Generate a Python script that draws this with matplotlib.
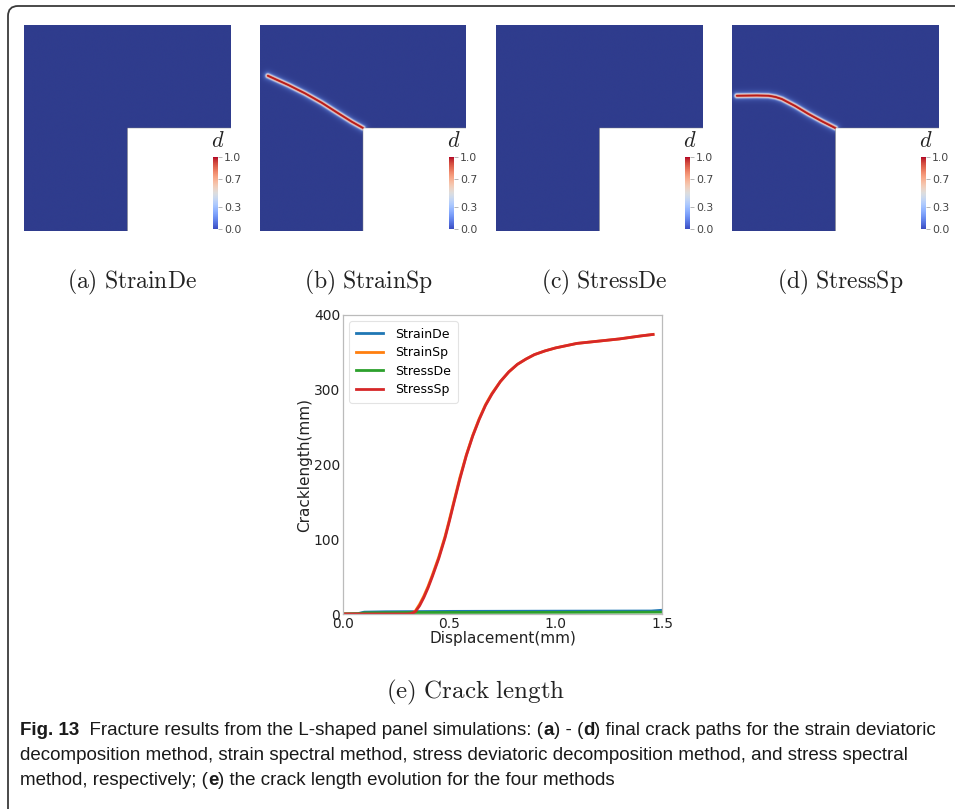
import numpy as np
import matplotlib
matplotlib.use("Agg")
import matplotlib.pyplot as plt
from matplotlib.colors import LinearSegmentedColormap
from matplotlib.patches import FancyBboxPatch
from matplotlib.transforms import IdentityTransform

plt.rcParams['mathtext.fontset'] = 'cm'

# ---------------- data ----------------
panel_names = ["(a) StrainDe", "(b) StrainSp", "(c) StressDe", "(d) StressSp"]
cbar_ticks = [0.0, 0.3, 0.7, 1.0]
cbar_ticklabels = ["0.0", "0.3", "0.7", "1.0"]

# crack paths in panel coordinates (mm), L-shaped panel 500 x 500
crack_b_x = [18.7, 68.7, 109.2, 149.7, 190.0, 222.6, 250.0]
crack_b_y = [377.0, 354.4, 334.2, 311.4, 285.7, 265.3, 250.0]
crack_d_x = [11.4, 60.0, 88.1, 105.0, 120.6, 152.9, 185.2, 217.7, 250.0]
crack_d_y = [328.4, 329.0, 328.4, 325.5, 320.4, 303.4, 284.0, 266.3, 250.0]
cracks = [None, (crack_b_x, crack_b_y), None, (crack_d_x, crack_d_y)]

series_names = ["StrainDe", "StrainSp", "StressDe", "StressSp"]
strainde_x = [0.0, 0.07, 0.10, 0.20, 0.50, 1.00, 1.45, 1.50]
strainde_y = [0.0, 0.5, 2.5, 3.0, 3.5, 3.8, 4.0, 5.0]
stressde_x = [0.0, 0.07, 0.10, 0.30, 1.00, 1.50]
stressde_y = [0.0, 0.3, 1.5, 2.0, 2.2, 2.5]
stresssp_x = [0.0, 0.30, 0.32, 0.34, 0.36, 0.38, 0.40, 0.42, 0.45, 0.48, 0.50,
              0.52, 0.55, 0.58, 0.61, 0.64, 0.67, 0.70, 0.74, 0.78, 0.82, 0.86,
              0.90, 0.95, 1.00, 1.05, 1.10, 1.20, 1.30, 1.40, 1.458]
stresssp_y = [0.0, 0.0, 0.5, 3, 11, 22, 35, 50, 74, 102, 124,
              147, 181, 212, 238, 260, 279, 294, 311, 324, 334, 341,
              347, 352, 356, 359, 362, 365, 368, 372, 374]
strainsp_x = stresssp_x
strainsp_y = [0.0, 0.0, 0.6, 4, 13, 24, 37, 52, 76, 104, 126,
              149, 183, 213, 239, 261, 280, 295, 311, 324, 334, 341,
              347, 352, 356, 359, 362, 365, 368, 372, 374]

# ---------------- figure ----------------
W, H = 955, 809
fig = plt.figure(figsize=(W / 100, H / 100), dpi=100)

def fax(x0, y0, x1, y1):
    """axes from pixel box (top-left origin)"""
    return fig.add_axes([x0 / W, 1 - y1 / H, (x1 - x0) / W, (y1 - y0) / H])

# outer rounded frame
frame = FancyBboxPatch((8, -40), 1000, 843, boxstyle="round,pad=0,rounding_size=10",
                       transform=IdentityTransform(), fill=False, edgecolor="#3a3a3a",
                       linewidth=1.3, figure=fig)
fig.patches.append(frame)

field_cmap = LinearSegmentedColormap.from_list(
    "field", [(0.0, "#2f3c8d"), (0.2, "#4b63b8"), (0.45, "#dfe3f0"),
              (0.7, "#f08a6c"), (1.0, "#b2151f")])

gx = np.linspace(0, 500, 600)
gy = np.linspace(0, 500, 600)
GX, GY = np.meshgrid(gx, gy)

panel_lefts = [24, 260, 496, 732]
cbar_lefts = [213, 449, 685, 921]

for i in range(4):
    L = panel_lefts[i]
    ax = fax(L, 25, L + 206, 231)
    d = np.zeros_like(GX)
    if cracks[i] is not None:
        cx = np.array(cracks[i][0]); cy = np.array(cracks[i][1])
        dist = np.full_like(GX, 1e9)
        for k in range(len(cx) - 1):
            ax_, ay_ = cx[k], cy[k]
            bx, by = cx[k + 1], cy[k + 1]
            vx, vy = bx - ax_, by - ay_
            t = ((GX - ax_) * vx + (GY - ay_) * vy) / (vx * vx + vy * vy)
            t = np.clip(t, 0, 1)
            px, py = ax_ + t * vx, ay_ + t * vy
            dist = np.minimum(dist, np.hypot(GX - px, GY - py))
        d = np.exp(-np.maximum(dist - 1.0, 0) / 4.5)
    d = np.ma.masked_where((GX > 250) & (GY < 250), d)
    ax.imshow(d, origin="lower", extent=[0, 500, 0, 500], cmap=field_cmap,
              vmin=0, vmax=1, aspect="auto", interpolation="bilinear")
    if cracks[i] is not None:
        ax.plot(cracks[i][0], cracks[i][1], color="#b51c1c", lw=1.0,
                solid_capstyle="round")
    ax.set_xlim(0, 500); ax.set_ylim(0, 500)
    ax.axis("off")

    # colorbar
    C = cbar_lefts[i]
    cax = fax(C, 157, C + 5, 229)
    sm = plt.cm.ScalarMappable(cmap="coolwarm", norm=plt.Normalize(0, 1))
    cb = fig.colorbar(sm, cax=cax, ticks=cbar_ticks)
    cb.ax.set_yticklabels(cbar_ticklabels)
    cb.outline.set_visible(False)
    cb.ax.tick_params(labelsize=7.8, length=3, width=0.6, color="#aaaaaa",
                      labelcolor="#444444", pad=1.5)
    fig.text((C + 5) / W, 1 - 141 / H, "$d$", fontsize=16, ha="center",
             va="center", color="#222222")

    # sub-caption
    fig.text((L + 108) / W, 1 - 282 / H,
             r"$\mathrm{" + panel_names[i].replace(" ", r"\ ") + "}$",
             fontsize=17, ha="center", va="center", color="#222222")

# ---------------- line chart ----------------
ax = fax(343, 315, 662, 614)
ax.plot(strainde_x, strainde_y, color="#1f77b4", lw=2, label=series_names[0])
ax.plot(strainsp_x, strainsp_y, color="#ff7f0e", lw=2, label=series_names[1])
ax.plot(stressde_x, stressde_y, color="#2ca02c", lw=2, label=series_names[2])
ax.plot(stresssp_x, stresssp_y, color="#d62728", lw=2, label=series_names[3])
ax.set_xlim(0, 1.5)
ax.set_ylim(0, 400)
ax.set_xticks([0.0, 0.5, 1.0, 1.5])
ax.set_xticklabels(["0.0", "0.5", "1.0", "1.5"])
ax.set_yticks([0, 100, 200, 300, 400])
for s in ax.spines.values():
    s.set_color("#bbbbbb")
    s.set_linewidth(0.9)
ax.tick_params(length=0, labelsize=10, pad=2, labelcolor="#222222")
ax.set_xlabel("Displacement(mm)", fontsize=11, labelpad=0, color="#222222")
ax.set_ylabel("Cracklength(mm)", fontsize=11, labelpad=1, color="#222222")
leg = ax.legend(loc="upper left", fontsize=9, frameon=True, handlelength=2.2,
                borderpad=0.5, labelspacing=0.45, handletextpad=1.0)
leg.get_frame().set_edgecolor("#dddddd")
leg.get_frame().set_linewidth(0.8)

fig.text(476 / W, 1 - 692 / H, r"$\mathrm{(e)\ Crack\ length}$", fontsize=18,
         ha="center", va="center", color="#222222")

# ---------------- caption ----------------
cap_ax = fig.add_axes([0, 0, 1, 1])
cap_ax.axis("off")
cap_family = ["Liberation Sans", "DejaVu Sans"]
cap_size = 13.5
lines = [
    [("Fig. 13", "bold"), ("  Fracture results from the L-shaped panel simulations: (", "normal"),
     ("a", "bold"), (") - (", "normal"), ("d", "bold"),
     (") final crack paths for the strain deviatoric", "normal")],
    [("decomposition method, strain spectral method, stress deviatoric decomposition method, and stress spectral", "normal")],
    [("method, respectively; (", "normal"), ("e", "bold"),
     (") the crack length evolution for the four methods", "normal")],
]
baselines = [739, 764, 789]
for parts, yb in zip(lines, baselines):
    prev = None
    for s, w in parts:
        if prev is None:
            prev = cap_ax.text(20 / W, 1 - yb / H, s, fontsize=cap_size, weight=w,
                               family=cap_family, ha="left", va="bottom",
                               color="#1a1a1a", transform=cap_ax.transAxes)
        else:
            prev = cap_ax.annotate(s, xy=(1, 0), xycoords=prev, fontsize=cap_size,
                                   weight=w, family=cap_family, ha="left",
                                   va="bottom", color="#1a1a1a")

fig.savefig("out.png", dpi=100)
